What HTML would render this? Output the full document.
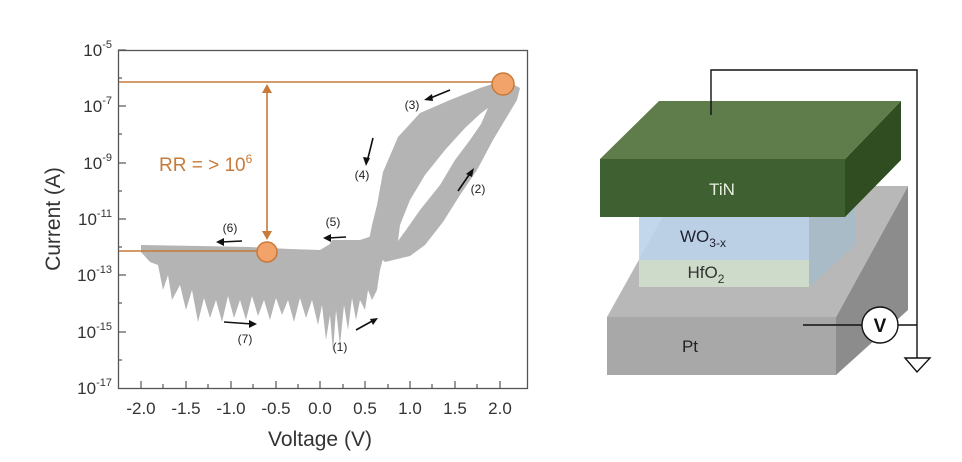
<!DOCTYPE html>
<html><head><meta charset="utf-8"><style>
html,body{margin:0;padding:0;background:#fff;}
svg{display:block;font-family:"Liberation Sans",sans-serif;}
</style></head><body>
<svg width="962" height="462" viewBox="0 0 962 462" xmlns="http://www.w3.org/2000/svg">
<g fill="#b4b4b4">
<path fill-rule="evenodd" d="M368,245 L372,225 L377,205 L383,172 L398,137 L420,113 L450,100 L480,88 L505,80 L520,88 L517,100 L505,120 L493,140 L477,170 L460,195 L443,222 L425,245 L410,256 L385,262 Z M488,108 L481,124 L470,140 L455,160 L440,185 L420,210 L406,230 L398,241 L400,225 L410,200 L425,175 L445,150 L465,128 L480,114 Z"/>
<path d="M141,245 L200,246 L250,247 L290,249 L320,250 L330,244 L332,240 L360,240 L372,236 L385,252 L380,270 L377,290 L372,300 L368,290 L365,310 L360,300 L356,320 L352,298 L348,330 L344,305 L340,345 L336,310 L333,352 L330,315 L326,340 L322,305 L318,325 L312,300 L306,318 L300,298 L294,322 L288,300 L282,315 L276,298 L270,320 L264,300 L258,316 L252,296 L246,320 L240,300 L234,318 L228,296 L222,322 L216,300 L210,318 L204,298 L198,322 L192,290 L186,310 L180,285 L172,300 L168,275 L163,290 L158,265 L150,262 L141,252 Z"/>
</g>
<rect x="118.5" y="50.5" width="409" height="338" fill="none" stroke="#555" stroke-width="1.3"/>
<g stroke="#555" stroke-width="1.2">
<line x1="118" y1="50" x2="126" y2="50"/><line x1="118" y1="106" x2="126" y2="106"/><line x1="118" y1="163" x2="126" y2="163"/><line x1="118" y1="219" x2="126" y2="219"/><line x1="118" y1="275" x2="126" y2="275"/><line x1="118" y1="332" x2="126" y2="332"/>
<line x1="118" y1="78" x2="122" y2="78"/><line x1="118" y1="134" x2="122" y2="134"/><line x1="118" y1="191" x2="122" y2="191"/><line x1="118" y1="247" x2="122" y2="247"/><line x1="118" y1="303" x2="122" y2="303"/><line x1="118" y1="360" x2="122" y2="360"/>
<line x1="141" y1="388" x2="141" y2="381"/><line x1="186" y1="388" x2="186" y2="381"/><line x1="231" y1="388" x2="231" y2="381"/><line x1="276" y1="388" x2="276" y2="381"/><line x1="320" y1="388" x2="320" y2="381"/><line x1="365" y1="388" x2="365" y2="381"/><line x1="410" y1="388" x2="410" y2="381"/><line x1="455" y1="388" x2="455" y2="381"/><line x1="500" y1="388" x2="500" y2="381"/>
<line x1="163" y1="388" x2="163" y2="384"/><line x1="208" y1="388" x2="208" y2="384"/><line x1="253" y1="388" x2="253" y2="384"/><line x1="298" y1="388" x2="298" y2="384"/><line x1="343" y1="388" x2="343" y2="384"/><line x1="388" y1="388" x2="388" y2="384"/><line x1="432" y1="388" x2="432" y2="384"/><line x1="477" y1="388" x2="477" y2="384"/>
</g>
<g font-size="17" fill="#333" text-anchor="end">
<text x="112" y="56">10<tspan font-size="11" dy="-8">-5</tspan></text>
<text x="112" y="112">10<tspan font-size="11" dy="-8">-7</tspan></text>
<text x="112" y="169">10<tspan font-size="11" dy="-8">-9</tspan></text>
<text x="112" y="225">10<tspan font-size="11" dy="-8">-11</tspan></text>
<text x="112" y="281">10<tspan font-size="11" dy="-8">-13</tspan></text>
<text x="112" y="338">10<tspan font-size="11" dy="-8">-15</tspan></text>
<text x="112" y="394">10<tspan font-size="11" dy="-8">-17</tspan></text>
</g>
<g font-size="17" fill="#333" text-anchor="middle">
<text x="141" y="414">-2.0</text><text x="186" y="414">-1.5</text><text x="231" y="414">-1.0</text><text x="276" y="414">-0.5</text><text x="320" y="414">0.0</text><text x="365" y="414">0.5</text><text x="410" y="414">1.0</text><text x="455" y="414">1.5</text><text x="500" y="414">2.0</text>
</g>
<text x="320" y="446" font-size="21" fill="#333" text-anchor="middle">Voltage (V)</text>
<text transform="translate(60,219) rotate(-90)" font-size="21" fill="#333" text-anchor="middle">Current (A)</text>
<g stroke="#c87a3a" stroke-width="1.6" fill="none">
<line x1="119" y1="82" x2="503" y2="82"/>
<line x1="119" y1="251" x2="267" y2="251"/>
<line x1="267" y1="86" x2="267" y2="238"/>
</g>
<path d="M267,84 L262,93 L272,93 Z M267,240 L262,231 L272,231 Z" fill="#c87a3a"/>
<circle cx="503" cy="84" r="11" fill="#f2a36a" stroke="#c87a3a" stroke-width="1.5"/>
<circle cx="267" cy="252" r="10" fill="#f2a36a" stroke="#c87a3a" stroke-width="1.5"/>
<text x="159" y="171" font-size="19" fill="#c87a3a">RR = &gt; 10<tspan font-size="12" dy="-8">6</tspan></text>
<g stroke="#111" stroke-width="1.6">
<line x1="450" y1="90" x2="428" y2="99"/><line x1="373" y1="138" x2="367" y2="162"/><line x1="458" y1="191" x2="471" y2="172"/><line x1="346" y1="237" x2="328" y2="238"/><line x1="242" y1="241" x2="221" y2="242"/><line x1="224" y1="322" x2="252" y2="324"/><line x1="356" y1="330" x2="374" y2="320"/>
</g>
<g fill="#111">
<path d="M424,100 L432,94 L433,101 Z"/><path d="M366,166 L363,157 L370,158 Z"/><path d="M474,168 L472,177 L466,174 Z"/><path d="M323,238 L331,234 L331,242 Z"/><path d="M216,242 L224,238 L224,246 Z"/><path d="M257,324 L249,320 L249,328 Z"/><path d="M378,318 L373,325 L370,319 Z"/>
</g>
<g font-size="12" fill="#222" text-anchor="middle">
<text x="412" y="109">(3)</text><text x="362" y="179">(4)</text><text x="478" y="193">(2)</text><text x="333" y="226">(5)</text><text x="230" y="232">(6)</text><text x="245" y="343">(7)</text><text x="340" y="351">(1)</text>
</g>
<polygon points="836,317 908,186 908,310 836,375" fill="#8c8c8c"/>
<polygon points="607,317 836,317 908,186 680,186" fill="#b8b8b8"/>
<rect x="607" y="317" width="229" height="58" fill="#a8a8a8"/>
<rect x="639" y="217" width="170" height="43" fill="#bcd3ea" opacity="0.9"/>
<rect x="639" y="260" width="170" height="27" fill="#d2dfcc" opacity="0.9"/>
<polygon points="809,217 855,170 855,245 809,287" fill="#a5bccb" opacity="0.8"/>
<polygon points="845,159 901,101 901,160 845,217" fill="#2f4d20"/>
<polygon points="600,159 845,159 901,101 659,101" fill="#5f7d4b"/>
<rect x="600" y="159" width="245" height="58" fill="#3f6030"/>
<text x="722" y="195" font-size="17" fill="#e8f0e0" text-anchor="middle">TiN</text>
<text x="703" y="242" font-size="17" fill="#223" text-anchor="middle">WO<tspan font-size="12" dy="5">3-x</tspan></text>
<text x="706" y="278" font-size="17" fill="#333" text-anchor="middle">HfO<tspan font-size="12" dy="5">2</tspan></text>
<text x="690" y="352" font-size="17" fill="#222" text-anchor="middle">Pt</text>
<g stroke="#111" stroke-width="1.4" fill="none">
<polyline points="711,115 711,70 917,70 917,358"/>
<line x1="803" y1="325" x2="862" y2="325"/><line x1="898" y1="325" x2="917" y2="325"/>
<circle cx="880" cy="325" r="18" fill="#fff"/>
<polygon points="905,358 930,358 917,372"/>
</g>
<text x="880" y="332" font-size="19" font-weight="bold" fill="#111" text-anchor="middle">V</text>
</svg>
</body></html>
